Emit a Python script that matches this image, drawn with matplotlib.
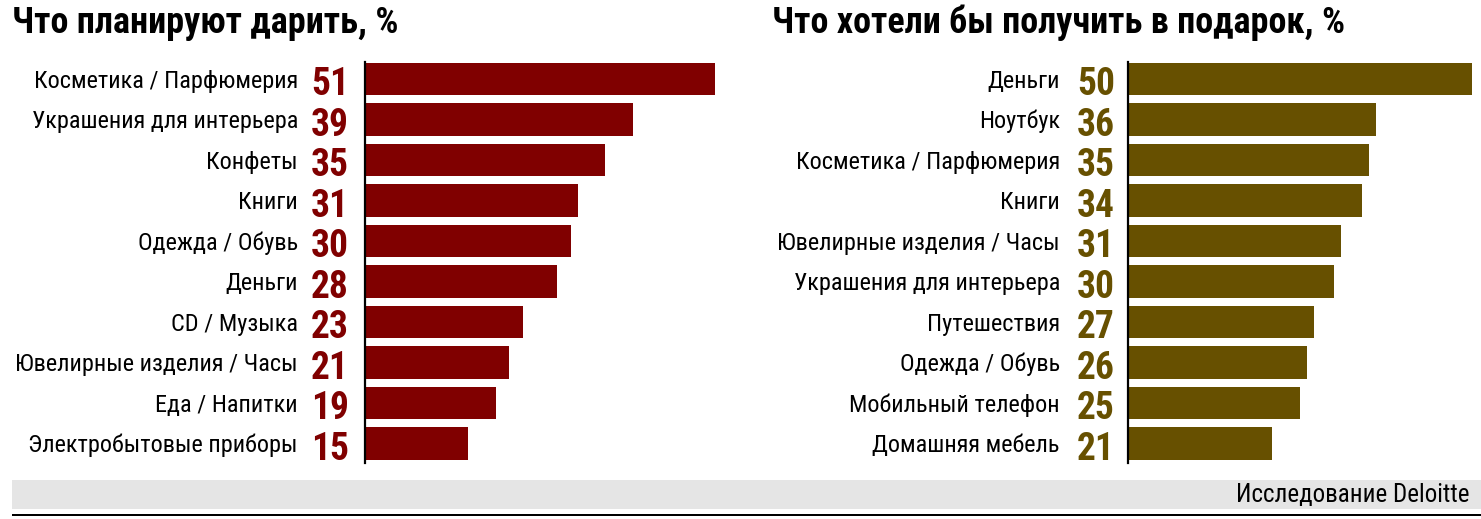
import matplotlib
matplotlib.use("Agg")
import matplotlib.pyplot as plt
from matplotlib import font_manager as fm
from matplotlib.transforms import blended_transform_factory

left_title = "Что планируют дарить, %"
left_cats = ["Косметика / Парфюмерия", "Украшения для интерьера", "Конфеты", "Книги",
             "Одежда / Обувь", "Деньги", "CD / Музыка", "Ювелирные изделия / Часы",
             "Еда / Напитки", "Электробытовые приборы"]
left_vals = [51, 39, 35, 31, 30, 28, 23, 21, 19, 15]

right_title = "Что хотели бы получить в подарок, %"
right_cats = ["Деньги", "Ноутбук", "Косметика / Парфюмерия", "Книги",
              "Ювелирные изделия / Часы", "Украшения для интерьера", "Путешествия",
              "Одежда / Обувь", "Мобильный телефон", "Домашняя мебель"]
right_vals = [50, 36, 35, 34, 31, 30, 27, 26, 25, 21]

source = "Исследование Deloitte"

names = {f.name for f in fm.fontManager.ttflist}
cands = ["Roboto Condensed", "PT Sans Narrow", "Fira Sans Condensed",
         "Sofia Sans Condensed", "Open Sans Condensed", "Liberation Sans Narrow"]
FAM = next((c for c in cands if c in names), "DejaVu Sans")
FAMS = [FAM, "DejaVu Sans"]

W, H = 1481, 519
fig = plt.figure(figsize=(W / 100, H / 100), dpi=100)

def px_axes(x0, y0, x1, y1):
    return fig.add_axes([x0 / W, 1 - y1 / H, (x1 - x0) / W, (y1 - y0) / H])

def panel(x_axis, scale, cats, vals, color, label_x, num_x, title, title_x):
    xmax = 51.5
    ax = px_axes(x_axis, 62, x_axis + scale * xmax, 463)
    y = list(range(len(cats)))
    ax.barh(y, vals, height=0.81, color=color, left=0)
    ax.set_xlim(0, xmax)
    ax.set_ylim(9.48, -0.42)
    for s in ["top", "right", "bottom"]:
        ax.spines[s].set_visible(False)
    ax.spines["left"].set_linewidth(1.6)
    ax.spines["left"].set_color("black")
    ax.set_xticks([])
    ax.set_yticks([])
    tr = blended_transform_factory(fig.transFigure, ax.transData)
    for yi, c, v in zip(y, cats, vals):
        fig.text(label_x / W, yi + 0.22, c, transform=tr, ha="right", va="baseline",
                 fontsize=17.5, family=FAMS, color="black")
        fig.text(num_x / W, yi + 0.40, str(v), transform=tr, ha="right", va="baseline",
                 fontsize=27, family=FAMS, weight="heavy", color=color)
    fig.text(title_x / W, 1 - 33 / H, title, ha="left", va="baseline", fontsize=26,
             family=FAMS, weight="heavy", color="black")
    return ax

panel(365, 6.87, left_cats, left_vals, "#800000", 298, 349, left_title, 12)
panel(1128, 6.88, right_cats, right_vals, "#675000", 1060, 1115, right_title, 772)

# footer band
band = fig.add_axes([12 / W, 1 - 509 / H, (W - 12) / W, 29 / H])
band.set_facecolor("#e5e5e5")
band.set_xticks([]); band.set_yticks([])
for s in band.spines.values():
    s.set_visible(False)
fig.text(1470 / W, 1 - 502 / H, source, ha="right", va="baseline",
         fontsize=18, family=FAMS, color="black")
line = fig.add_axes([12 / W, 1 - 516 / H, (W - 12) / W, 2 / H])
line.set_facecolor("black")
line.set_xticks([]); line.set_yticks([])
for s in line.spines.values():
    s.set_visible(False)

fig.savefig("out.png", dpi=100)
